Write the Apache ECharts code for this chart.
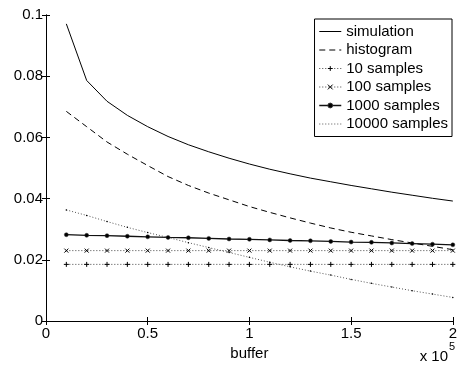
<!DOCTYPE html>
<html><head><meta charset="utf-8">
<script src="https://cdn.jsdelivr.net/npm/echarts@6/dist/echarts.min.js"></script>
<style>html,body{margin:0;padding:0;background:#fff}#c{width:460px;height:367px}</style>
</head><body><div id="c"></div>
<script>
const buffer = [10000,20000,30000,40000,50000,60000,70000,80000,90000,100000,110000,120000,130000,140000,150000,160000,170000,180000,190000,200000];
const simulation = [0.0971,0.0786,0.0718,0.0672,0.0635,0.0603,0.0576,0.0553,0.0532,0.0513,0.0496,0.0481,0.0467,0.0455,0.0443,0.0432,0.0421,0.0411,0.0401,0.0392];
const histogram = [0.0685,0.0635,0.0585,0.0545,0.0508,0.0472,0.0443,0.0418,0.0396,0.0374,0.0355,0.0337,0.0320,0.0304,0.0290,0.0278,0.0266,0.0255,0.0244,0.0233];
const samples10 = [0.0185,0.0185,0.0185,0.0185,0.0185,0.0185,0.0185,0.0185,0.0185,0.0185,0.0185,0.0185,0.0185,0.0185,0.0185,0.0185,0.0185,0.0185,0.0185,0.0185];
const samples100 = [0.0230,0.0230,0.0230,0.0230,0.0230,0.0230,0.0230,0.0230,0.0230,0.0230,0.0230,0.0230,0.0230,0.0230,0.0230,0.0230,0.0230,0.0230,0.0230,0.0230];
const samples1000 = [0.0282,0.0280,0.0279,0.0277,0.0275,0.0273,0.0272,0.0270,0.0268,0.0267,0.0265,0.0263,0.0262,0.0260,0.0258,0.0257,0.0255,0.0253,0.0251,0.0249];
const samples10000 = [0.0363,0.0345,0.0325,0.0306,0.0289,0.0273,0.0256,0.0240,0.0224,0.0208,0.0192,0.0177,0.0163,0.0150,0.0136,0.0123,0.0111,0.0099,0.0088,0.0077];
const xTicks = ['0','0.5','1','1.5','2'];
const yTicks = ['0','0.02','0.04','0.06','0.08','0.1'];
const seriesNames = ['simulation','histogram','10 samples','100 samples','1000 samples','10000 samples'];

const FONT = 'Liberation Sans, Arial, Helvetica, sans-serif';
const pair = arr => buffer.map((x, i) => [x, arr[i]]);
const plus = 'path://M5,0L5,10M0,5L10,5';
const cross = 'path://M0,0L10,10M10,0L0,10';

const chart = echarts.init(document.getElementById('c'), null, {renderer: 'canvas'});
const axisCommon = {
  axisLine: {show: true, lineStyle: {color: '#000', width: 1}},
  axisTick: {show: true, inside: true, length: 4, lineStyle: {color: '#000', width: 1}},
  splitLine: {show: false},
};
chart.setOption({
  animation: false,
  backgroundColor: '#fff',
  grid: {left: 46, right: 4, top: 15, bottom: 46},
  xAxis: [
    Object.assign({type: 'value', min: 0, max: 200000, interval: 50000, position: 'bottom',
      name: 'buffer', nameLocation: 'middle', nameGap: 20,
      nameTextStyle: {color: '#000', fontSize: 15, fontFamily: FONT},
      axisLabel: {color: '#000', fontSize: 15, fontFamily: FONT, margin: 5,
        formatter: v => xTicks[Math.round(v / 50000)]}}, axisCommon),
    Object.assign({type: 'value', min: 0, max: 200000, interval: 50000, position: 'top',
      axisLabel: {show: false}}, axisCommon)
  ],
  yAxis: [
    Object.assign({type: 'value', min: 0, max: 0.1, interval: 0.02, position: 'left',
      axisLabel: {color: '#000', fontSize: 15, fontFamily: FONT, margin: 3,
        formatter: v => yTicks[Math.round(v / 0.02)]}}, axisCommon),
    Object.assign({type: 'value', min: 0, max: 0.1, interval: 0.02, position: 'right',
      axisLabel: {show: false}}, axisCommon)
  ],
  legend: {
    data: [
      {name: seriesNames[0], itemStyle: {opacity: 0}},
      {name: seriesNames[1], itemStyle: {opacity: 0}},
      {name: seriesNames[2]},
      {name: seriesNames[3]},
      {name: seriesNames[4], lineStyle: {width: 1.5}},
      {name: seriesNames[5], itemStyle: {opacity: 0}}
    ],
    orient: 'vertical', right: 8, top: 19,
    padding: [5, 4, 5, 4], itemGap: 3.5, itemWidth: 22, itemHeight: 6,
    borderColor: '#000', borderWidth: 1, backgroundColor: '#fff',
    textStyle: {color: '#000', fontSize: 15, fontFamily: FONT},
    itemStyle: {borderWidth: 1},
    lineStyle: {width: 1},
    selectedMode: false
  },
  graphic: [
    {type: 'text', x: 448, y: 357, style: {text: 'x 10', font: '15px ' + FONT, fill: '#000', textAlign: 'right', textVerticalAlign: 'middle'}},
    {type: 'text', x: 449, y: 347, style: {text: '5', font: '11px ' + FONT, fill: '#000', textAlign: 'left', textVerticalAlign: 'middle'}}
  ],
  series: [
    {name: seriesNames[0], type: 'line', data: pair(simulation), symbol: 'none',
      lineStyle: {color: '#000', width: 1, type: 'solid'}, itemStyle: {color: '#000'}},
    {name: seriesNames[1], type: 'line', data: pair(histogram), symbol: 'none',
      lineStyle: {color: '#000', width: 1, type: [6, 4]}, itemStyle: {color: '#000'}},
    {name: seriesNames[2], type: 'line', data: pair(samples10), symbol: plus, symbolSize: 5,
      lineStyle: {color: '#444', width: 1, type: [1, 2]},
      itemStyle: {color: '#000', borderColor: '#000', borderWidth: 1}},
    {name: seriesNames[3], type: 'line', data: pair(samples100), symbol: cross, symbolSize: 4,
      lineStyle: {color: '#444', width: 1, type: [1, 2]},
      itemStyle: {color: '#000', borderColor: '#000', borderWidth: 1}},
    {name: seriesNames[4], type: 'line', data: pair(samples1000), symbol: 'circle', symbolSize: 4,
      lineStyle: {color: '#111', width: 1.3, type: 'solid'},
      itemStyle: {color: '#000', borderColor: '#333', borderWidth: 0.5}},
    {name: seriesNames[5], type: 'line', data: pair(samples10000), symbol: 'circle', symbolSize: 1.5,
      lineStyle: {color: '#555', width: 1, type: [1, 2]},
      itemStyle: {color: '#000', borderColor: '#000', borderWidth: 0}}
  ]
});
</script></body></html>
